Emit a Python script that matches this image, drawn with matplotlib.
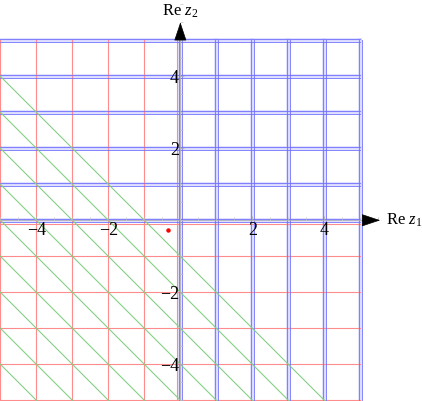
import numpy as np
import matplotlib.pyplot as plt
from matplotlib.ticker import MultipleLocator

plt.rcParams['font.family'] = 'Liberation Serif'
plt.rcParams['mathtext.fontset'] = 'custom'
plt.rcParams['mathtext.rm'] = 'Liberation Serif'
plt.rcParams['mathtext.it'] = 'Liberation Serif:italic'

# data
red_x = [-5, -4, -3, -2, -1, -0.1]      # vertical red lines
red_y = [-0.1, -1, -2, -3, -4, -5]      # horizontal red lines
blue_vals = [0, 1, 2, 3, 4, 5]          # blue double lines (both directions)
green_c = [-1, -2, -3, -4, -5, -6, -7, -8, -9]  # diagonals x + y = c
point_x = [-0.33]
point_y = [-0.27]
ticks = [-4, -2, 2, 4]
lo, hi = -5, 5

fig = plt.figure(figsize=(4.22, 4.01), dpi=100)
ax = fig.add_axes([0, 0, 1, 1])
ax.set_xlim(-5.01, -5.01 + 422 / 36.0)
ax.set_ylim(-5.02, -5.02 + 401 / 36.0)

red = '#ff8c8c'
for x in red_x:
    ax.plot([x, x], [lo, hi], color=red, lw=0.8, zorder=2)
for y in red_y:
    ax.plot([lo, hi], [y, y], color=red, lw=0.8, zorder=2)

# blue double lines with light band between
d = 0.045
for v in blue_vals:
    ax.plot([v, v], [lo, hi], color='#d0d0ff', lw=2.6, alpha=0.8, zorder=1)
    ax.plot([lo, hi], [v, v], color='#d0d0ff', lw=2.6, alpha=0.8, zorder=1)
    for s in (-d, d):
        ax.plot([v + s, v + s], [lo, hi], color='#7070ff', lw=0.6, zorder=3)
        ax.plot([lo, hi], [v + s, v + s], color='#7070ff', lw=0.6, zorder=3)

for c in green_c:
    xs = np.array([max(lo, c - hi), min(hi, c - lo)])
    ax.plot(xs, c - xs, color='#84d084', lw=0.8, zorder=4)

ax.plot(point_x, point_y, 'o', color='red', ms=3.2, mec='none', zorder=6)

# axes through origin
for s in ['top', 'right']:
    ax.spines[s].set_visible(False)
ax.spines['left'].set_position(('data', 0))
ax.spines['bottom'].set_position(('data', 0))
ax.spines['left'].set_bounds(lo, 5.05)
ax.spines['bottom'].set_bounds(lo, 5.05)
for s in ['left', 'bottom']:
    ax.spines[s].set_color('#b0b0b0')
    ax.spines[s].set_linewidth(0.6)
    ax.spines[s].set_zorder(5)
ax.xaxis.set_zorder(8)
ax.yaxis.set_zorder(8)
ax.set_xticks(ticks)
ax.set_yticks(ticks)
ax.set_xticklabels([f'\u2212{-t}' if t < 0 else str(t) for t in ticks])
ax.set_yticklabels([f'\u2212{-t}' if t < 0 else str(t) for t in ticks])
ax.xaxis.set_minor_locator(MultipleLocator(0.5))
ax.yaxis.set_minor_locator(MultipleLocator(0.5))
ax.tick_params(which='major', direction='in', length=3, width=0.6, color='#b0b0b0',
               labelsize=13, pad=1)
ax.tick_params(which='minor', direction='in', length=2, width=0.5, color='#c0c0c0')
ax.patch.set_visible(False)

# arrows and axis labels
for xy, xyt in [((5.55, 0), (5.05, 0)), ((0, 5.5), (0, 5.02))]:
    ax.annotate('', xy=xy, xytext=xyt,
                arrowprops=dict(arrowstyle='-|>,head_length=1.2,head_width=0.4',
                                color='black', lw=0.5, shrinkA=0, shrinkB=0),
                zorder=9)
ax.text(5.72, 0, r'Re $z_1$', fontsize=12, va='center', ha='left')
ax.text(0, 5.8, r'Re $z_2$', fontsize=12, va='center', ha='center')

fig.savefig('out.png', dpi=100)
